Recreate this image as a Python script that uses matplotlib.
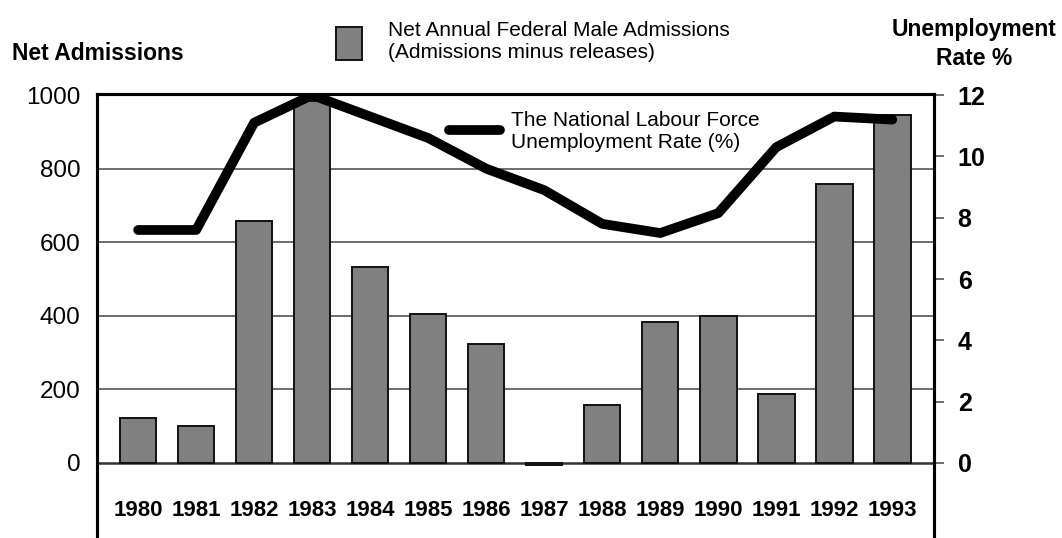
import matplotlib
matplotlib.use("Agg")
import matplotlib.pyplot as plt
from matplotlib.patches import Rectangle
from matplotlib.lines import Line2D

years = ["1980", "1981", "1982", "1983", "1984", "1985", "1986",
         "1987", "1988", "1989", "1990", "1991", "1992", "1993"]
admissions = [122, 100, 657, 985, 533, 405, 323, -5, 158, 383, 400, 187, 758, 946]
unemployment = [7.6, 7.6, 11.1, 12.0, 11.3, 10.6, 9.6, 8.9, 7.8, 7.5, 8.15, 10.3, 11.3, 11.2]

plt.rcParams['font.family'] = ['Liberation Sans', 'DejaVu Sans']

fig = plt.figure(figsize=(10.62, 5.38), dpi=100)
ax = fig.add_axes([0.0913, 0.0, 0.7882, 0.8253])
x = list(range(len(years)))

# grid lines
for v in [200, 400, 600, 800]:
    ax.axhline(v, color='#555555', lw=1.2, zorder=1)
ax.axhline(0, color='#333333', lw=1.8, zorder=1)

ax.bar(x, admissions, width=0.63, color='#808080', edgecolor='#111111', lw=1.4, zorder=2)

ax.set_xlim(-0.71, 13.72)
ax.set_ylim(-204, 1003)
ax.set_yticks([0, 200, 400, 600, 800, 1000])
ax.set_yticklabels(['0', '200', '400', '600', '800', '1000'], fontsize=17.5)
ax.tick_params(axis='y', length=0, pad=12)
ax.set_xticks([])
ax.spines['bottom'].set_visible(False)
for s in ['left', 'top', 'right']:
    ax.spines[s].set_linewidth(2.2)

for i, y in enumerate(years):
    ax.text(i, -128, y, ha='center', va='center', fontsize=16, fontweight='bold')

ax2 = ax.twinx()
ax2.plot(x, unemployment, color='black', lw=7, solid_capstyle='round',
         solid_joinstyle='round', zorder=3)
ax2.set_ylim(-204 * 12 / 1000, 1003 * 12 / 1000)
ax2.set_yticks([0, 2, 4, 6, 8, 10, 12])
ax2.set_yticklabels(['0', '2', '4', '6', '8', '10', '12'], fontsize=18, fontweight='bold')
ax2.tick_params(axis='y', length=7, width=1.2, color='#555555', pad=10)
ax2.spines['bottom'].set_visible(False)
for s in ['left', 'top', 'right']:
    ax2.spines[s].set_linewidth(2.2)

# axis titles
fig.text(0.011, 0.900, 'Net Admissions', fontsize=16.5, fontweight='bold', va='center')
fig.text(0.917, 0.918, 'Unemployment\nRate %', fontsize=16.5, fontweight='bold',
         ha='center', va='center', linespacing=1.3)

# legend for bars
fig.patches.append(Rectangle((0.316, 0.888), 0.025, 0.061, transform=fig.transFigure,
                             facecolor='#808080', edgecolor='#111111', lw=1.4))
fig.text(0.365, 0.922, 'Net Annual Federal Male Admissions\n(Admissions minus releases)',
         fontsize=15, va='center', linespacing=1.2)

# legend for line
fig.lines.append(Line2D([0.423, 0.471], [0.758, 0.758], transform=fig.transFigure,
                        color='black', lw=7, solid_capstyle='round'))
fig.text(0.481, 0.755, 'The National Labour Force\nUnemployment Rate (%)',
         fontsize=15, va='center', linespacing=1.2)

fig.savefig('out.png', dpi=100)
